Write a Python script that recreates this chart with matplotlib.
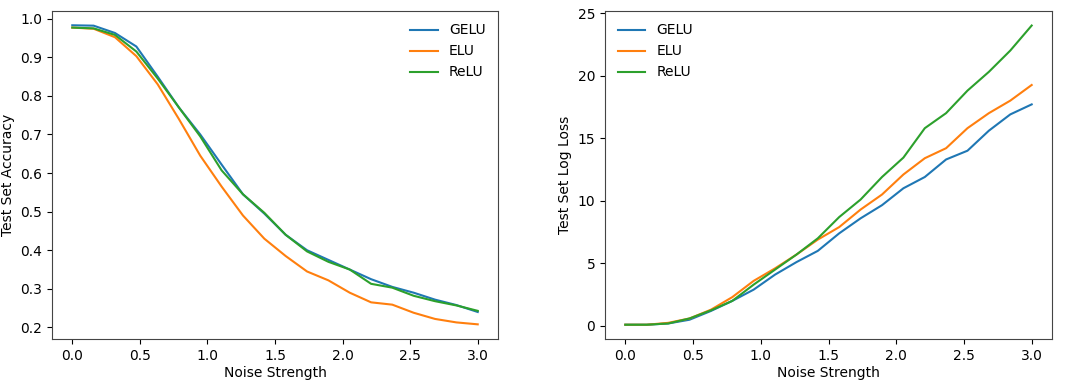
#!/usr/bin/env python3
"""Noise robustness: test accuracy and log loss vs noise strength for GELU / ELU / ReLU."""

import matplotlib

matplotlib.use("Agg")
import matplotlib.pyplot as plt

noise = [0.0, 0.158, 0.316, 0.474, 0.632, 0.789, 0.947, 1.105, 1.263, 1.421,
         1.579, 1.737, 1.895, 2.053, 2.211, 2.368, 2.526, 2.684, 2.842, 3.0]

acc_gelu = [0.983, 0.982, 0.963, 0.928, 0.850, 0.770, 0.700, 0.622, 0.545, 0.495,
            0.440, 0.400, 0.375, 0.350, 0.325, 0.305, 0.290, 0.272, 0.258, 0.240]
acc_elu = [0.977, 0.974, 0.952, 0.903, 0.830, 0.740, 0.645, 0.565, 0.490, 0.430,
           0.385, 0.345, 0.322, 0.290, 0.265, 0.259, 0.238, 0.222, 0.213, 0.208]
acc_relu = [0.977, 0.975, 0.958, 0.915, 0.845, 0.770, 0.695, 0.607, 0.545, 0.497,
            0.440, 0.397, 0.370, 0.350, 0.313, 0.303, 0.282, 0.268, 0.257, 0.243]

loss_gelu = [0.1, 0.1, 0.2, 0.5, 1.2, 2.0, 2.9, 4.1, 5.1, 6.0,
             7.4, 8.6, 9.65, 11.0, 11.9, 13.3, 14.0, 15.6, 16.9, 17.7]
loss_elu = [0.1, 0.1, 0.25, 0.6, 1.3, 2.3, 3.6, 4.6, 5.7, 6.9,
            7.9, 9.3, 10.5, 12.1, 13.4, 14.2, 15.8, 17.0, 18.0, 19.25]
loss_relu = [0.1, 0.1, 0.2, 0.6, 1.25, 2.0, 3.3, 4.5, 5.7, 7.0,
             8.7, 10.1, 11.9, 13.45, 15.8, 17.0, 18.8, 20.3, 22.0, 24.0]

labels = ["GELU", "ELU", "ReLU"]
colors = ["#1f77b4", "#ff7f0e", "#2ca02c"]

fig = plt.figure(figsize=(10.8, 3.92), dpi=100)
ax_acc = fig.add_axes([52 / 1080, 53 / 392, 446 / 1080, 328 / 392])
ax_loss = fig.add_axes([605 / 1080, 53 / 392, 447 / 1080, 328 / 392])

for ys, lab, c in zip([acc_gelu, acc_elu, acc_relu], labels, colors):
    ax_acc.plot(noise, ys, color=c, lw=1.5, label=lab)
for ys, lab, c in zip([loss_gelu, loss_elu, loss_relu], labels, colors):
    ax_loss.plot(noise, ys, color=c, lw=1.5, label=lab)

ax_acc.set_ylim(0.17, 1.02)
ax_acc.set_yticks([0.2, 0.3, 0.4, 0.5, 0.6, 0.7, 0.8, 0.9, 1.0])
ax_acc.set_ylabel("Test Set Accuracy")
ax_acc.legend(loc="upper right", frameon=False)

ax_loss.set_ylim(-1.04, 25.16)
ax_loss.set_yticks([0, 5, 10, 15, 20, 25])
ax_loss.set_ylabel("Test Set Log Loss")
ax_loss.legend(loc="upper left", frameon=False)

for ax in (ax_acc, ax_loss):
    ax.set_xlim(-0.15, 3.15)
    ax.set_xticks([0.0, 0.5, 1.0, 1.5, 2.0, 2.5, 3.0])
    ax.set_xlabel("Noise Strength", labelpad=2)
    for s in ax.spines.values():
        s.set_color("#444444")

fig.savefig("out.png", dpi=100)
